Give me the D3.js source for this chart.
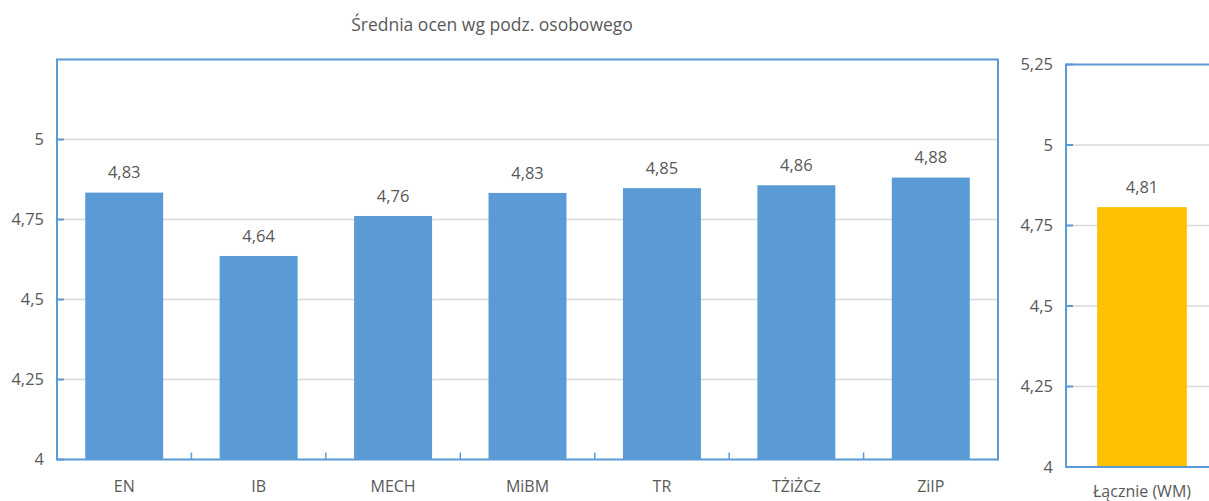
<!DOCTYPE html>
<html><head><meta charset="utf-8">
<script src="https://cdn.jsdelivr.net/npm/d3@7"></script>
<style>body{margin:0;background:#fff}svg{display:block}text{font-family:"Open Sans","Noto Sans",sans-serif;fill:#595959}</style>
</head><body><svg id="c" width="1209" height="501"></svg>
<script>
const title = "Średnia ocen wg podz. osobowego";
const categories = ["EN","IB","MECH","MiBM","TR","TŻiŻCz","ZiIP"];
const values = [4.834, 4.636, 4.761, 4.833, 4.848, 4.857, 4.881];
const totalCategory = ["Łącznie (WM)"];
const totalValue = [4.807];
const leftTicks = [4, 4.25, 4.5, 4.75, 5];
const rightTicks = [4, 4.25, 4.5, 4.75, 5, 5.25];

const svg = d3.select("#c");
const fmt = v => d3.format(".2f")(v).replace(".", ",");
const tickFmt = v => String(v).replace(".", ",");
const border = "#5b9bd5", grid = "#d9d9d9";

function panel(cfg) {
  const g = svg.append("g");
  const x = d3.scaleBand().domain(cfg.cats).range([cfg.x0, cfg.x1]).paddingInner(cfg.pad).paddingOuter(cfg.pad / 2);
  const y = d3.scaleLinear().domain([4, 5.25]).range([cfg.y1, cfg.y0]);
  g.selectAll(".gl").data(cfg.ticks.filter(t => t > 4 && t < 5.25)).join("line")
    .attr("x1", cfg.x0).attr("x2", cfg.x1).attr("y1", d => y(d)).attr("y2", d => y(d))
    .attr("stroke", grid).attr("stroke-width", 1.3);
  g.selectAll(".bar").data(cfg.vals).join("rect")
    .attr("x", (d, i) => x(cfg.cats[i])).attr("width", x.bandwidth())
    .attr("y", d => y(d)).attr("height", d => y(4) - y(d)).attr("fill", cfg.color);
  const lab = g.selectAll(".lab").data(cfg.vals).join("g")
    .attr("transform", (d, i) => `translate(${x(cfg.cats[i]) + x.bandwidth() / 2},${y(d) - 20})`);
  lab.append("rect").attr("x", -23).attr("y", -11).attr("width", 46).attr("height", 22).attr("fill", "#fff");
  lab.append("text").attr("text-anchor", "middle").attr("dy", "0.35em").style("font-size", "16.5px").text(d => fmt(d));
  g.append("path").attr("fill", "none").attr("stroke", border).attr("stroke-width", 2)
    .attr("d", cfg.closed
      ? `M${cfg.x0},${cfg.y0}H${cfg.x1}V${cfg.y1}H${cfg.x0}Z`
      : `M${cfg.x1 + 5},${cfg.y0}H${cfg.x0}V${cfg.y1}H${cfg.x1 + 5}`);
  g.selectAll(".yt").data(cfg.ticks).join("line")
    .attr("x1", cfg.x0).attr("x2", cfg.x0 + 7).attr("y1", d => y(d)).attr("y2", d => y(d))
    .attr("stroke", border).attr("stroke-width", 2);
  g.selectAll(".yl").data(cfg.ticks).join("text")
    .attr("x", cfg.x0 - 13).attr("y", d => y(d)).attr("dy", "0.35em").attr("text-anchor", "end")
    .style("font-size", "16.5px").text(d => tickFmt(d));
  const step = x.step();
  g.selectAll(".ct").data(d3.range(1, cfg.cats.length)).join("line")
    .attr("x1", d => cfg.x0 + d * step).attr("x2", d => cfg.x0 + d * step)
    .attr("y1", cfg.y1).attr("y2", cfg.y1 - 7).attr("stroke", border).attr("stroke-width", 1.5);
  g.selectAll(".cl").data(cfg.cats).join("text")
    .attr("x", d => x(d) + x.bandwidth() / 2).attr("y", cfg.y1 + cfg.labOff).attr("dy", "0.35em")
    .attr("text-anchor", "middle").style("font-size", "16px").text(d => d);
}

panel({cats: categories, vals: values, x0: 57, x1: 998, y0: 59.5, y1: 459.5, pad: 0.42, color: "#5b9bd5",
  ticks: leftTicks, closed: true, labOff: 27});
panel({cats: totalCategory, vals: totalValue, x0: 1066, x1: 1218, y0: 64.5, y1: 467, pad: 0.41, color: "#ffc000",
  ticks: rightTicks, closed: false, labOff: 24});

svg.append("text").attr("x", 492).attr("y", 25).attr("dy", "0.35em").attr("text-anchor", "middle")
  .style("font-size", "17.5px").text(title);
</script></body></html>
